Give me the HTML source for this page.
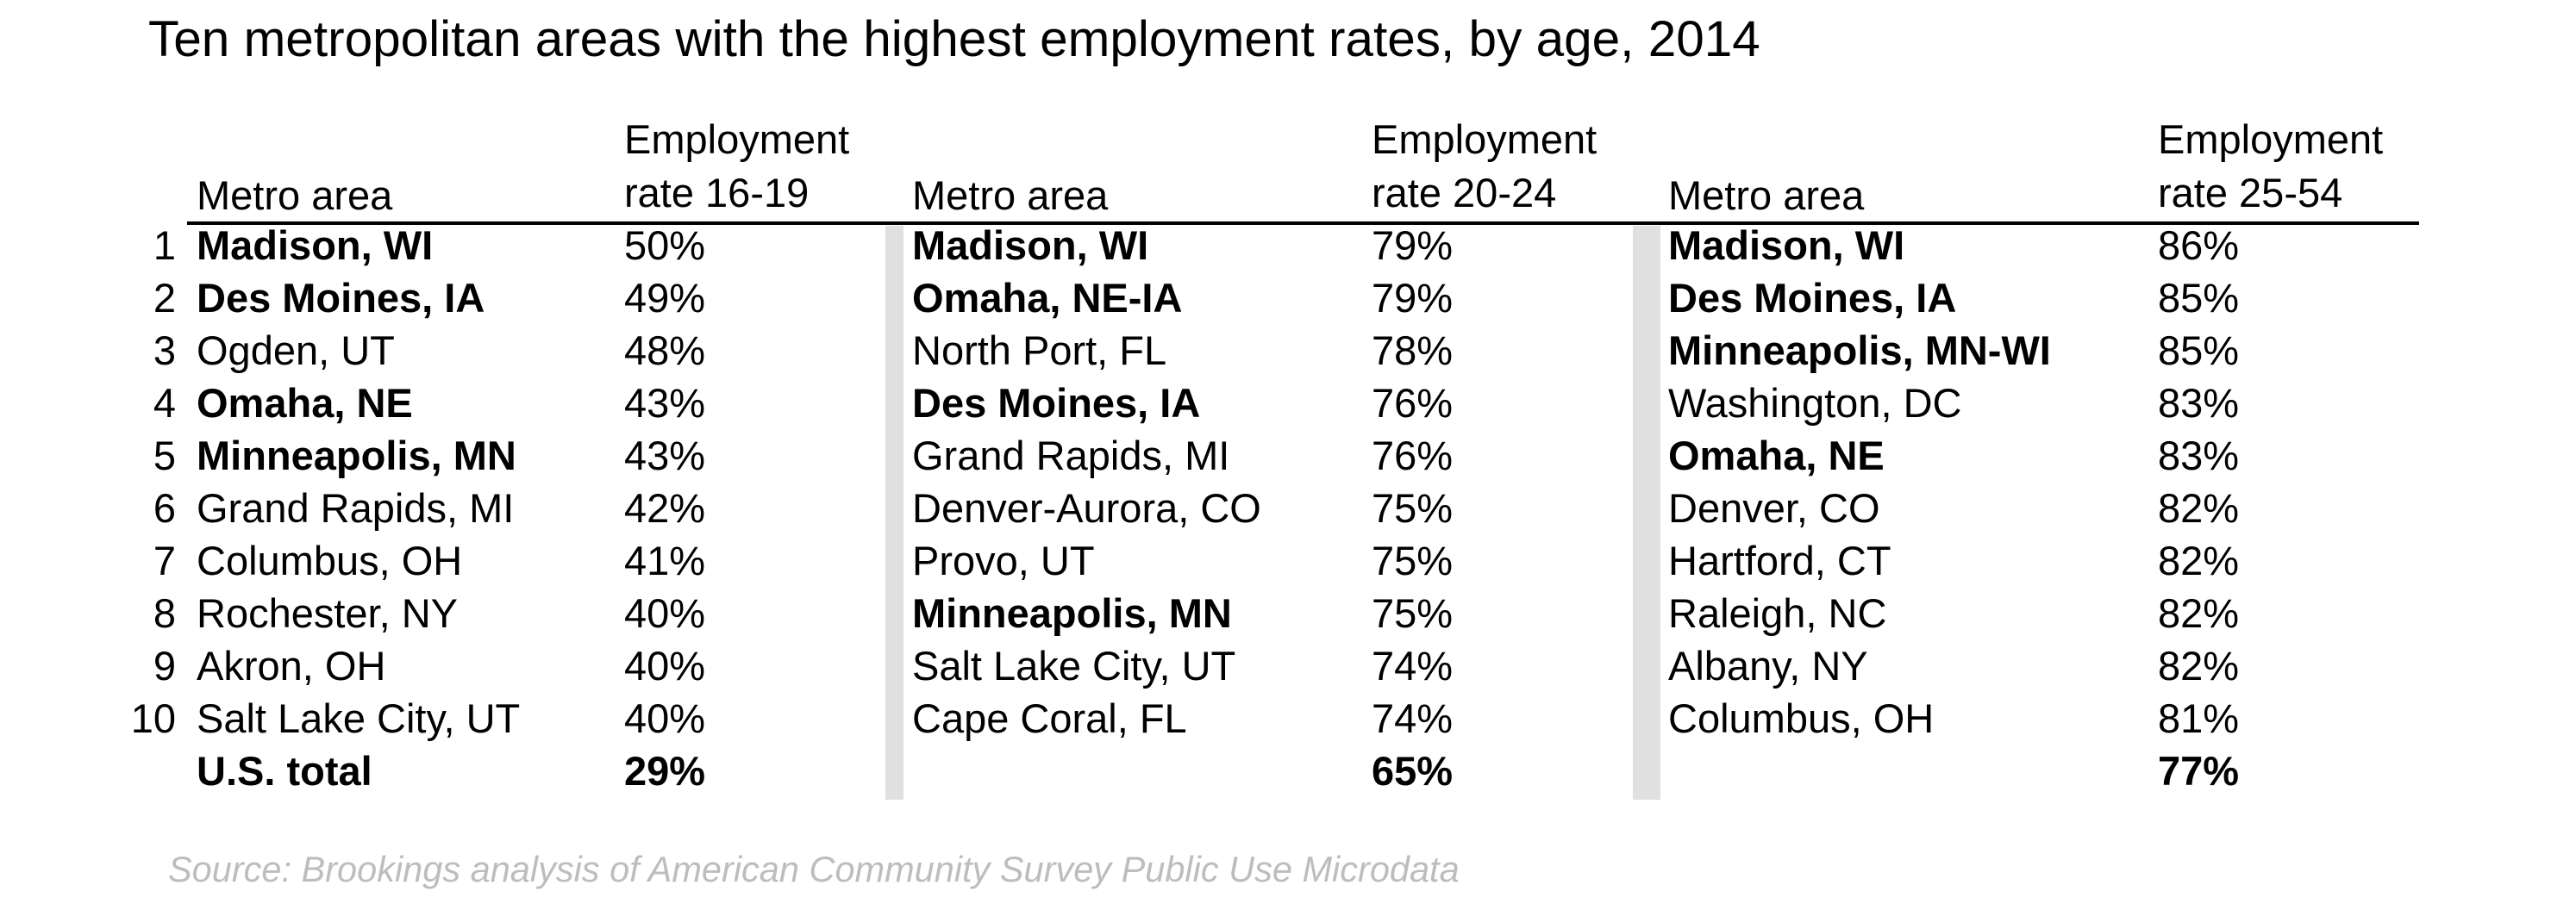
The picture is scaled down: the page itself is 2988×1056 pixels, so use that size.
<!DOCTYPE html>
<html><head><meta charset="utf-8"><style>
html,body{margin:0;padding:0;background:#fff;}
svg{display:block;}
text{font-family:"Liberation Sans",Arial,sans-serif;fill:#000;}
.b{font-weight:bold;}
</style></head><body>
<svg width="2988" height="1056" viewBox="0 0 2988 1056" xmlns="http://www.w3.org/2000/svg">
<text x="172" y="65" font-size="58.5">Ten metropolitan areas with the highest employment rates, by age, 2014</text>
<g font-size="47">
<text x="228" y="243">Metro area</text>
<text x="724" y="178">Employment</text>
<text x="724" y="240">rate 16-19</text>
<text x="1058" y="243">Metro area</text>
<text x="1591" y="178">Employment</text>
<text x="1591" y="240">rate 20-24</text>
<text x="1935" y="243">Metro area</text>
<text x="2503" y="178">Employment</text>
<text x="2503" y="240">rate 25-54</text>
</g>
<rect x="217" y="257" width="2589" height="4" fill="#000"/>
<rect x="1027" y="262" width="21" height="666" fill="#e0e0e0"/>
<rect x="1894" y="262" width="32" height="666" fill="#e0e0e0"/>
<g font-size="47">
<g text-anchor="end">
<text x="204" y="301">1</text><text x="204" y="362">2</text><text x="204" y="423">3</text><text x="204" y="484">4</text><text x="204" y="545">5</text><text x="204" y="606">6</text><text x="204" y="667">7</text><text x="204" y="728">8</text><text x="204" y="789">9</text><text x="204" y="850">10</text>
</g>
<text x="228" y="301" class="b">Madison, WI</text>
<text x="228" y="362" class="b">Des Moines, IA</text>
<text x="228" y="423">Ogden, UT</text>
<text x="228" y="484" class="b">Omaha, NE</text>
<text x="228" y="545" class="b">Minneapolis, MN</text>
<text x="228" y="606">Grand Rapids, MI</text>
<text x="228" y="667">Columbus, OH</text>
<text x="228" y="728">Rochester, NY</text>
<text x="228" y="789">Akron, OH</text>
<text x="228" y="850">Salt Lake City, UT</text>
<text x="228" y="911" class="b">U.S. total</text>
<text x="724" y="301">50%</text><text x="724" y="362">49%</text><text x="724" y="423">48%</text><text x="724" y="484">43%</text><text x="724" y="545">43%</text><text x="724" y="606">42%</text><text x="724" y="667">41%</text><text x="724" y="728">40%</text><text x="724" y="789">40%</text><text x="724" y="850">40%</text><text x="724" y="911" class="b">29%</text>

<text x="1058" y="301" class="b">Madison, WI</text>
<text x="1058" y="362" class="b">Omaha, NE-IA</text>
<text x="1058" y="423">North Port, FL</text>
<text x="1058" y="484" class="b">Des Moines, IA</text>
<text x="1058" y="545">Grand Rapids, MI</text>
<text x="1058" y="606">Denver-Aurora, CO</text>
<text x="1058" y="667">Provo, UT</text>
<text x="1058" y="728" class="b">Minneapolis, MN</text>
<text x="1058" y="789">Salt Lake City, UT</text>
<text x="1058" y="850">Cape Coral, FL</text>
<text x="1591" y="301">79%</text><text x="1591" y="362">79%</text><text x="1591" y="423">78%</text><text x="1591" y="484">76%</text><text x="1591" y="545">76%</text><text x="1591" y="606">75%</text><text x="1591" y="667">75%</text><text x="1591" y="728">75%</text><text x="1591" y="789">74%</text><text x="1591" y="850">74%</text><text x="1591" y="911" class="b">65%</text>

<text x="1935" y="301" class="b">Madison, WI</text>
<text x="1935" y="362" class="b">Des Moines, IA</text>
<text x="1935" y="423" class="b">Minneapolis, MN-WI</text>
<text x="1935" y="484">Washington, DC</text>
<text x="1935" y="545" class="b">Omaha, NE</text>
<text x="1935" y="606">Denver, CO</text>
<text x="1935" y="667">Hartford, CT</text>
<text x="1935" y="728">Raleigh, NC</text>
<text x="1935" y="789">Albany, NY</text>
<text x="1935" y="850">Columbus, OH</text>
<text x="2503" y="301">86%</text><text x="2503" y="362">85%</text><text x="2503" y="423">85%</text><text x="2503" y="484">83%</text><text x="2503" y="545">83%</text><text x="2503" y="606">82%</text><text x="2503" y="667">82%</text><text x="2503" y="728">82%</text><text x="2503" y="789">82%</text><text x="2503" y="850">81%</text><text x="2503" y="911" class="b">77%</text>
</g>
<text x="195" y="1023" font-size="41.5" font-style="italic" style="fill:#bdbdbd">Source: Brookings analysis of American Community Survey Public Use Microdata</text>
</svg>
</body></html>
